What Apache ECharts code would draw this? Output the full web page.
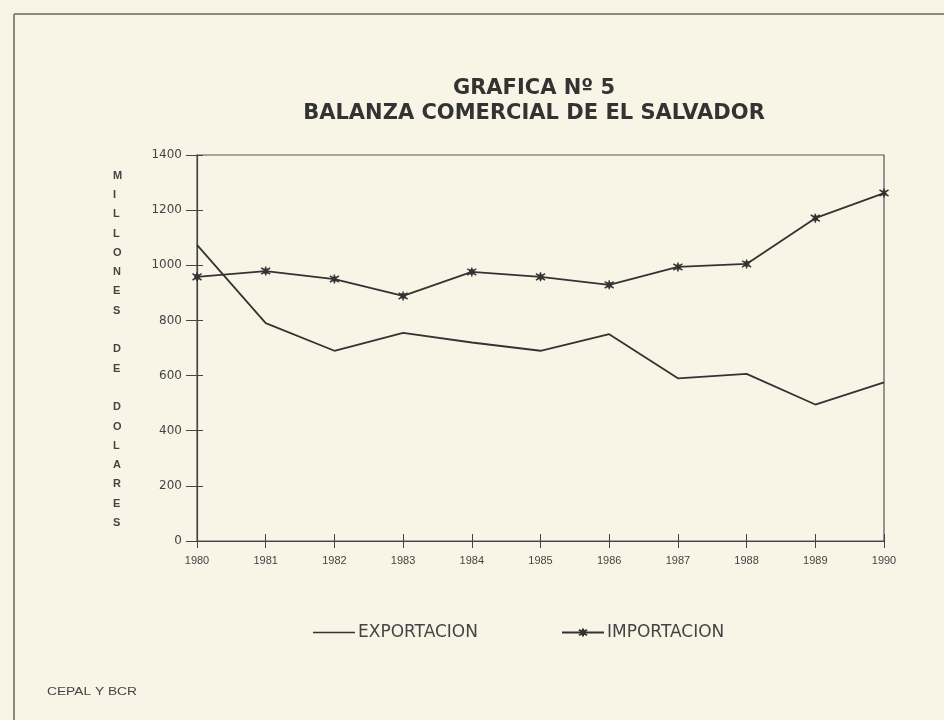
<!DOCTYPE html>
<html>
<head>
<meta charset="utf-8">
<script src="https://cdn.jsdelivr.net/npm/echarts@6/dist/echarts.min.js"></script>
<style>
html,body{margin:0;padding:0;background:#f8f5e6;}
#c{width:944px;height:720px;}
</style>
</head>
<body>
<div id="c"></div>
<script>
var years = ['1980','1981','1982','1983','1984','1985','1986','1987','1988','1989','1990'];
var exportacion = [1074, 790, 690, 755, 720, 690, 750, 590, 606, 495, 575];
var importacion = [958, 979, 950, 889, 976, 958, 929, 994, 1005, 1171, 1262];
var yTicks = [0, 200, 400, 600, 800, 1000, 1200, 1400];

var titleLine1 = 'GRAFICA Nº 5';
var titleLine2 = 'BALANZA COMERCIAL DE EL SALVADOR';
var yTitle = 'MILLONES DE DOLARES';
var source = 'CEPAL Y BCR';

var ink = '#333333';
var star = 'path://M0,-5L0,5M-4.5,-3.5L4.5,3.5M-4.5,3.5L4.5,-3.5M-2,-2L2,-2L2,2L-2,2Z';

var chart = echarts.init(document.getElementById('c'));
var yLetters = yTitle.split(' ').map(function(w){return w.split('').join('\n');}).join('\n\n');
var legendText = {fontFamily: 'DejaVu Sans', fontSize: 17, color: '#444', padding: [0,0,0,-2]};

chart.setOption({
  backgroundColor: '#f8f5e6',
  animation: false,
  title: {
    text: titleLine1 + '\n' + titleLine2,
    left: 529, top: 71, textAlign: 'center',
    textStyle: {fontFamily: 'DejaVu Sans', fontWeight: 'bold', fontSize: 21, color: '#333', lineHeight: 25}
  },
  legend: [{
    top: 619, left: 308, itemWidth: 42, itemHeight: 10, textStyle: legendText,
    data: [{name: 'EXPORTACION', icon: 'path://M0,0L10,0L10,0.35L0,0.35Z'}]
  }, {
    top: 619, left: 556, itemWidth: 42, itemHeight: 10, textStyle: legendText,
    data: [{name: 'IMPORTACION'}]
  }],
  grid: {left: 197, right: 60, top: 155, bottom: 179, show: true, borderColor: '#555', borderWidth: 1.2, backgroundColor: 'transparent'},
  xAxis: [{
    type: 'category', data: years, boundaryGap: false,
    axisLine: {lineStyle: {color: '#444', width: 1.2}},
    axisTick: {show: true, alignWithLabel: true, length: 7, lineStyle: {color: '#444'}},
    axisLabel: {fontFamily: 'Liberation Sans', fontSize: 11, color: '#444', margin: 14, interval: 0}
  }, {
    type: 'category', data: years, boundaryGap: false, position: 'bottom',
    axisLine: {show: false},
    axisTick: {show: true, inside: true, length: 7, lineStyle: {color: '#444'}},
    axisLabel: {show: false}
  }],
  yAxis: [{
    type: 'value', min: 0, max: 1400, interval: 200,
    splitLine: {show: false},
    axisLine: {show: true, lineStyle: {color: '#444', width: 1.2}},
    axisTick: {show: true, length: 11, lineStyle: {color: '#444'}},
    axisLabel: {fontFamily: 'DejaVu Sans', fontSize: 12, color: '#444', margin: 15,
      formatter: function(v){ return yTicks.indexOf(v) >= 0 ? String(v) : ''; }}
  }, {
    type: 'value', min: 0, max: 1400, interval: 200, position: 'left',
    splitLine: {show: false},
    axisLine: {show: false},
    axisTick: {show: true, inside: true, length: 6, lineStyle: {color: '#444'}},
    axisLabel: {show: false}
  }],
  graphic: [
    {type: 'line', shape: {x1: 14, y1: 14, x2: 944, y2: 14}, style: {stroke: '#8a8a80', lineWidth: 2}},
    {type: 'line', shape: {x1: 14, y1: 14, x2: 14, y2: 720}, style: {stroke: '#8a8a80', lineWidth: 2}},
    {type: 'text', left: 113, top: 166, style: {text: yLetters, fontFamily: 'Liberation Sans', fontWeight: 'bold', fontSize: 11, lineHeight: 19.3, fill: '#444', align: 'center'}},
    {type: 'text', x: 47, y: 686, scaleX: 1.25, style: {text: source, fontFamily: 'Liberation Sans', fontSize: 11, fill: '#444'}}
  ],
  series: [
    {name: 'EXPORTACION', type: 'line', data: exportacion, showSymbol: false, symbol: 'none',
     lineStyle: {color: ink, width: 1.8}, itemStyle: {color: ink}},
    {name: 'IMPORTACION', type: 'line', data: importacion, symbol: star, symbolSize: 9,
     lineStyle: {color: ink, width: 1.8}, itemStyle: {color: ink, borderColor: ink, borderWidth: 1.5}}
  ]
});
</script>
</body>
</html>
